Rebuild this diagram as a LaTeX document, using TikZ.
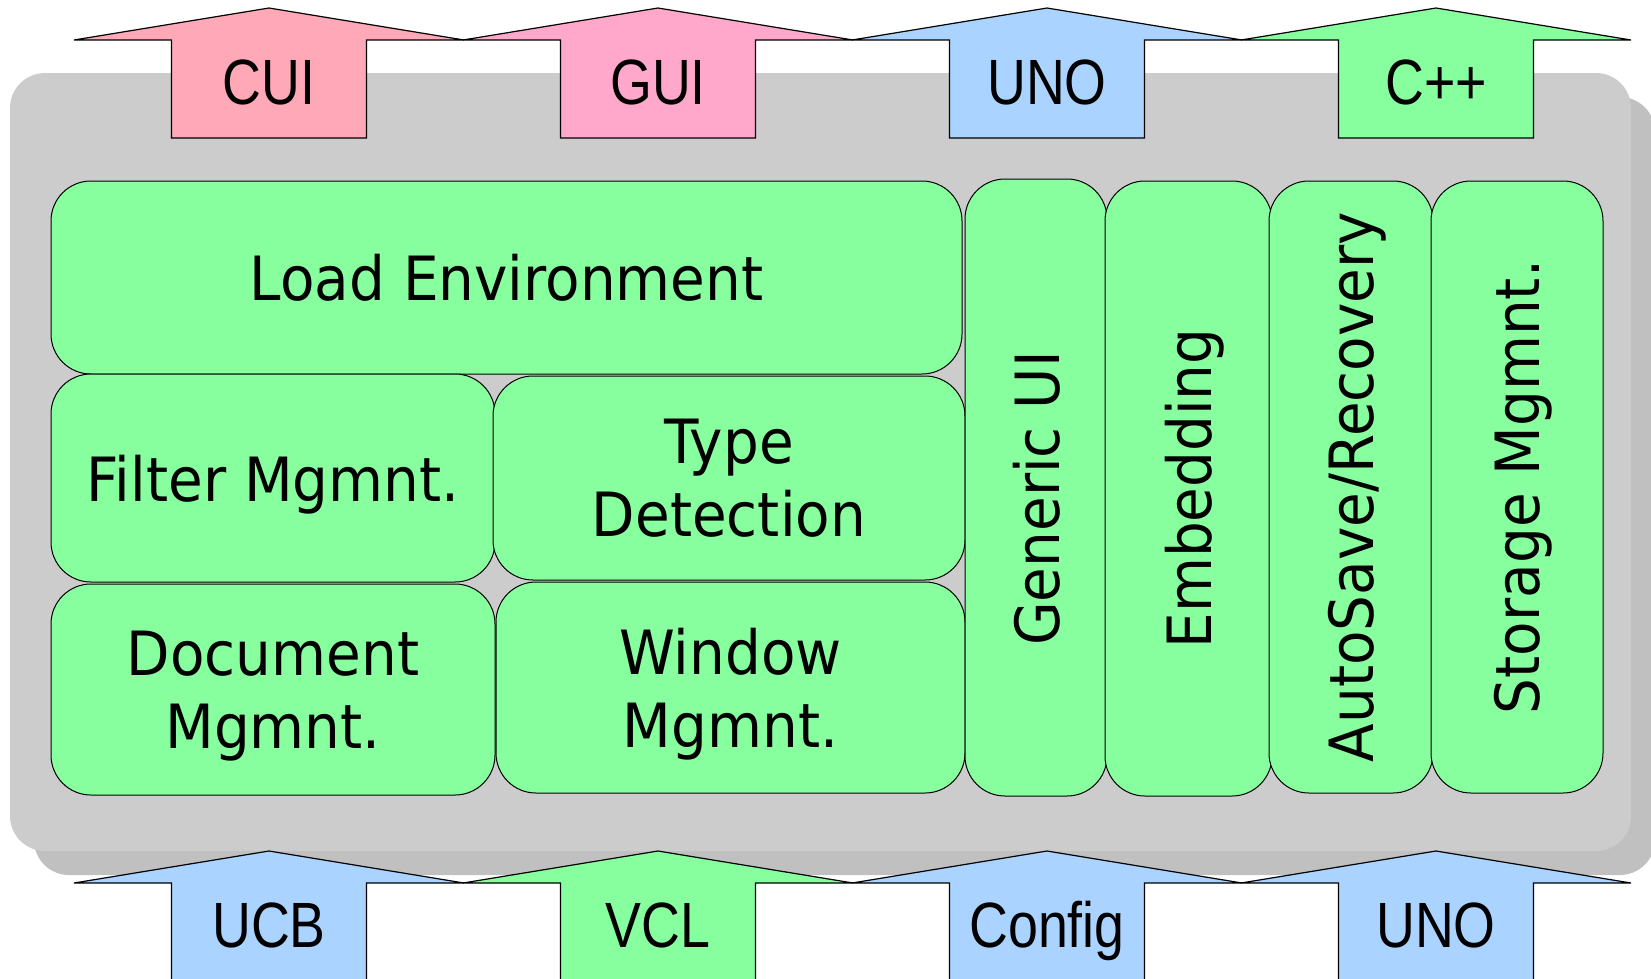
\documentclass[tikz,border=0pt]{standalone}
\usepackage{fontspec}
\newfontfamily\boxfont[FakeStretch=0.925]{DejaVu Sans}
\newfontfamily\tagfont[FakeStretch=0.84]{Liberation Sans}

\definecolor{boxgreen}{HTML}{88FF9F}
\definecolor{cuipink}{HTML}{FFA8B8}
\definecolor{guipink}{HTML}{FFA8CC}
\definecolor{ifblue}{HTML}{AAD4FF}
\definecolor{panelgray}{HTML}{CCCCCC}
\definecolor{shadowgray}{HTML}{C0C0C0}

\tikzset{
  blk/.style={draw=black, line width=1pt, fill=boxgreen, rounded corners=40pt,
    inner sep=2pt, align=center, text depth=0pt,
    font={\boxfont\fontsize{61}{73}\selectfont}},
  tag/.style={font={\tagfont\fontsize{64}{70}\selectfont}, inner sep=0pt},
  arrowline/.style={draw=black, line width=1.2pt},
}

% #1 name, #2 x, #3 tip y, #4 foot y, #5 colour, #6 label
\newcommand\tagarrow[6]{%
  \filldraw[arrowline, fill=#5] (#2,#3) -- ++(195,32) -- ++(-97.5,0)
    -- (#2+97.5,#4) -- (#2-97.5,#4) -- (#2-97.5,#3+32) -- ++(-97.5,0) -- cycle;
  \node[tag, anchor=base] (#1) at (#2,#3+96) {#6};
}

\begin{document}
\begin{tikzpicture}[x=1pt, y=-1pt]
\useasboundingbox (0,0) rectangle (1651,978);

% panel with shadow
\fill[shadowgray, rounded corners=35pt] (34,97) rectangle (1655,875);
\fill[panelgray, rounded corners=35pt] (10,73) rectangle (1631,851);

% blocks
\node[blk, minimum width=911pt, minimum height=193pt] (loadenv) at (506.5,277.5) {Load Environment};
\node[blk, minimum width=444pt, minimum height=208pt] (filter) at (273,478) {Filter Mgmnt.};
\node[blk, minimum width=472pt, minimum height=204pt] (typedet) at (729,478) {Type\\Detection};
\node[blk, minimum width=444pt, minimum height=211pt] (docmgmt) at (273,689.5) {Document\\Mgmnt.};
\node[blk, minimum width=469pt, minimum height=211pt] (winmgmt) at (730.5,687.5) {Window\\Mgmnt.};

% upright blocks
\node[blk, rotate=90, minimum width=617pt, minimum height=142pt] (genui) at (1036,487.5) {Generic UI\kern22pt};
\node[blk, rotate=90, minimum width=615pt, minimum height=167pt] (embed) at (1188.5,488.5) {Embedding};
\node[blk, rotate=90, minimum width=612pt, minimum height=164pt] (autosave) at (1351,487) {AutoSave/Recovery};
\node[blk, rotate=90, minimum width=612pt, minimum height=172pt] (storage) at (1517,487) {Storage Mgmnt.};

% offered on top
\tagarrow{cui}{269}{8}{138}{cuipink}{CUI}
\tagarrow{gui}{658}{8}{138}{guipink}{GUI}
\tagarrow{unotop}{1047}{8}{138}{ifblue}{UNO}
\tagarrow{cpp}{1436}{8}{138}{boxgreen}{C++}

% used from below
\tagarrow{ucb}{269}{851}{990}{ifblue}{UCB}
\tagarrow{vcl}{658}{851}{990}{boxgreen}{VCL}
\tagarrow{config}{1047}{851}{990}{ifblue}{Config}
\tagarrow{unobot}{1436}{851}{990}{ifblue}{UNO}
\end{tikzpicture}
\end{document}
